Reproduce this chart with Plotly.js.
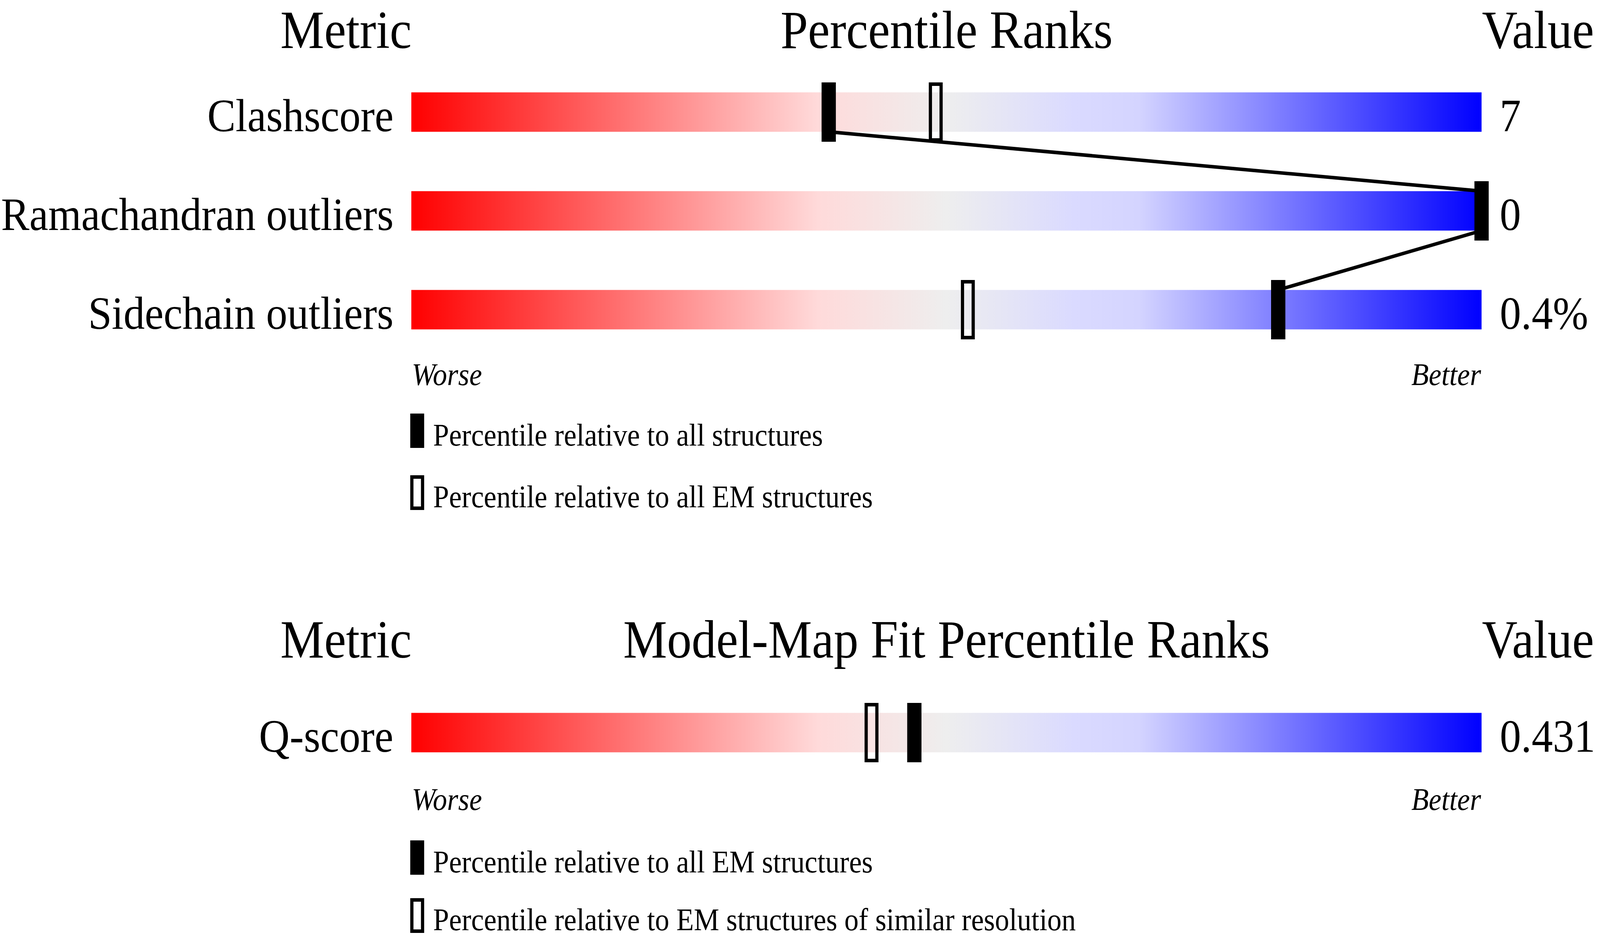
<!DOCTYPE html>
<html>
<head>
<meta charset="utf-8">
<script src="https://cdn.plot.ly/plotly-3.0.1.min.js"></script>
<style>
  html, body { margin: 0; padding: 0; background: #fff; overflow: hidden; }
  #chart { width: 4485px; height: 2402px; transform-origin: 0 0; }
</style>
</head>
<body>
<div id="chart"></div>
<script>
// values
const metrics = ['Clashscore', 'Ramachandran outliers', 'Sidechain outliers'];
const metricValues = ['7', '0', '0.4%'];
const pctAll = [39, 100, 81];      // filled marker, all structures
const pctAllEM = [49, 100, 52];    // open marker, all EM structures

const fitMetrics = ['Q-score'];
const fitValues = ['0.431'];
const fitPctEM = [47];             // filled marker, all EM structures
const fitPctSimilar = [43];        // open marker, EM structures of similar resolution

const legendTop = ['Percentile relative to all structures', 'Percentile relative to all EM structures'];
const legendBottom = ['Percentile relative to all EM structures', 'Percentile relative to EM structures of similar resolution'];

const W = 4485, H = 2402;
const FONT = '"Liberation Serif", "Times New Roman", serif';
const DESC = 0.216;   // descent of the serif font, in em

const sliderScale = [
  [0, 'rgb(255,0,0)'],
  [0.38, 'rgb(255,218,218)'],
  [0.5, 'rgb(238,238,238)'],
  [0.62, 'rgb(218,218,255)'],
  [0.68, 'rgb(212,212,255)'],
  [1, 'rgb(0,0,255)']
];

const BAR_H = 0.2;     // half height of the coloured bar (row units)

function gradientBar(row, yaxis) {
  return {
    type: 'scatter', mode: 'lines', xaxis: 'x', yaxis: yaxis,
    x: [0, 100, 100, 0, 0],
    y: [row - BAR_H, row - BAR_H, row + BAR_H, row + BAR_H, row - BAR_H],
    fill: 'toself',
    fillgradient: { type: 'horizontal', colorscale: sliderScale },
    line: { width: 0 }, hoverinfo: 'skip', showlegend: false
  };
}

// percentile markers as small rectangles around each value
function markers(pcts, yaxis, open) {
  const w = open ? 1.0 : 1.333, h = open ? 0.565 : 0.6;
  let xs = [], ys = [];
  pcts.forEach((p, i) => {
    const a = p - w / 2, b = p + w / 2, t = i - h / 2, u = i + h / 2;
    xs.push(a, b, b, a, a, b, null);
    ys.push(t, t, u, u, t, t, null);
  });
  return {
    type: 'scatter', mode: 'lines', xaxis: 'x', yaxis: yaxis,
    x: xs, y: ys, cliponaxis: false, connectgaps: false,
    fill: open ? 'none' : 'toself', fillcolor: '#000',
    line: { color: '#000', width: open ? 9 : 0 },
    hoverinfo: 'skip', showlegend: false
  };
}

// line joining the filled markers, bottom of one bar to top of the next
function linkLine(pcts, yaxis) {
  let xs = [], ys = [];
  pcts.forEach((p, i) => {
    xs.push(p, p); ys.push(i - BAR_H, i + BAR_H);
  });
  return {
    type: 'scatter', mode: 'lines', xaxis: 'x', yaxis: yaxis,
    x: xs.slice(1, -1), y: ys.slice(1, -1), cliponaxis: false,
    line: { color: '#000', width: 9 }, hoverinfo: 'skip', showlegend: false
  };
}

var data = [];
metrics.forEach((m, i) => data.push(gradientBar(i, 'y')));
fitMetrics.forEach((m, i) => data.push(gradientBar(i, 'y2')));
data.push(markers(pctAllEM, 'y', true));
data.push(markers(pctAll, 'y', false));
data.push(markers(fitPctSimilar, 'y2', true));
data.push(markers(fitPctEM, 'y2', false));
data.push(linkLine(pctAll, 'y'));

// text helpers: place a line of text by its baseline
function pyBase(px, size) { return 1 - (px + DESC * size) / H; }

function paperText(text, x, anchor, basePx, size, italic, xshift) {
  return {
    text: text, xref: 'x', x: x, xanchor: anchor, xshift: xshift || 0,
    yref: 'paper', y: pyBase(basePx, size), yanchor: 'bottom',
    showarrow: false, borderpad: 0,
    font: { family: FONT, size: size, color: '#000', style: italic ? 'italic' : 'normal' }
  };
}

function rowText(text, row, yref, x, anchor, xshift, size) {
  return {
    text: text, xref: 'x', x: x, xanchor: anchor, xshift: xshift,
    yref: yref, y: row + BAR_H, yanchor: 'bottom', yshift: -DESC * size,
    showarrow: false, borderpad: 0,
    font: { family: FONT, size: size, color: '#000' }
  };
}

var annotations = [];
// section headings
[[124, 'Percentile Ranks'], [1685, 'Model-Map Fit Percentile Ranks']].forEach(h => {
  annotations.push(paperText('Metric', 0, 'right', h[0], 138, false, 2));
  annotations.push(paperText(h[1], 50, 'center', h[0], 138));
  annotations.push(paperText('Value', 100, 'left', h[0], 138, false, 0));
});
metrics.forEach((m, i) => {
  annotations.push(rowText(m, i, 'y', 0, 'right', -49, 119));
  annotations.push(rowText(metricValues[i], i, 'y', 100, 'left', 50, 119));
});
fitMetrics.forEach((m, i) => {
  annotations.push(rowText(m, i, 'y2', 0, 'right', -49, 119));
  annotations.push(rowText(fitValues[i], i, 'y2', 100, 'left', 50, 119));
});
[987, 2075].forEach(b => {
  annotations.push(paperText('Worse', 0, 'left', b, 80, true));
  annotations.push(paperText('Better', 100, 'right', b, 80, true));
});

// legend keys
var shapes = [];
function legendRows(labels, tops) {
  tops.forEach((t, k) => {
    if (k === 0) {
      shapes.push({ type: 'rect', xref: 'x', yref: 'paper', x0: -0.1, x1: 1.2,
        y0: 1 - (t + 88) / H, y1: 1 - t / H, fillcolor: '#000', line: { width: 0 } });
    } else {
      shapes.push({ type: 'rect', xref: 'x', yref: 'paper', x0: 0.05, x1: 1.05,
        y0: 1 - (t + 84.5) / H, y1: 1 - (t + 4.5) / H, fillcolor: 'rgba(0,0,0,0)',
        line: { color: '#000', width: 9 } });
    }
    annotations.push(paperText(labels[k], 2.0, 'left', t + 83, 80));
  });
}
legendRows(legendTop, [1059, 1217]);
legendRows(legendBottom, [2152, 2300]);

// x: 30 px per percentile, 0 sits at 1153 px and 100 at 4153 px
var layout = {
  width: W, height: H,
  margin: { l: 1093, r: 272, t: 0, b: 0 },
  paper_bgcolor: '#fff', plot_bgcolor: 'rgba(0,0,0,0)',
  showlegend: false,
  xaxis: { range: [-2, 102], visible: false, fixedrange: true, anchor: 'y' },
  yaxis: { range: [2.5, -0.5], domain: [1 - 919.5 / H, 1 - 160.5 / H], visible: false, fixedrange: true },
  yaxis2: { range: [0.5, -0.5], domain: [1 - 2002.5 / H, 1 - 1749.5 / H], visible: false, fixedrange: true, anchor: 'x' },
  annotations: annotations,
  shapes: shapes
};

Plotly.newPlot('chart', data, layout, { displayModeBar: false, staticPlot: true }).then(() => {
  // fit the fixed-size figure into whatever viewport the page really gets
  const el = document.getElementById('chart');
  const sx = document.documentElement.clientWidth / W;
  const sy = document.documentElement.clientHeight / H;
  if (Math.abs(sx - 1) > 0.001 || Math.abs(sy - 1) > 0.001) {
    el.style.transform = 'scale(' + sx + ',' + sy + ')';
  }
});
</script>
</body>
</html>
